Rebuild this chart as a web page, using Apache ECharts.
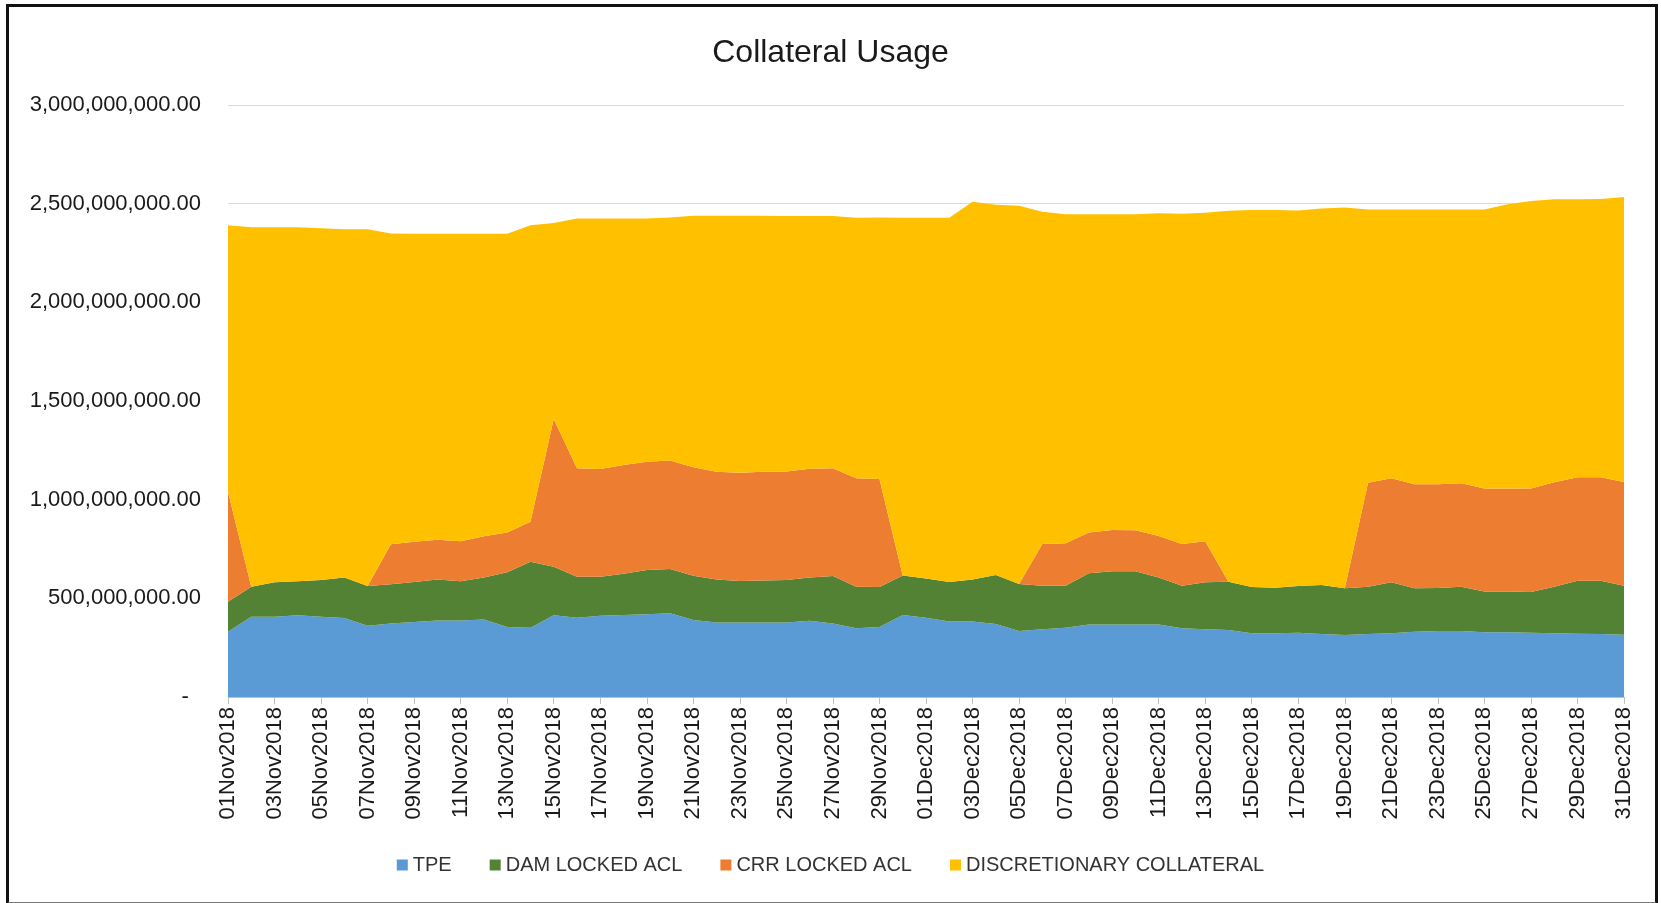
<!DOCTYPE html>
<html>
<head>
<meta charset="utf-8">
<script src="https://cdn.jsdelivr.net/npm/echarts@6/dist/echarts.min.js"></script>
<style>
  html, body { margin: 0; padding: 0; background: #fff; }
  #frame { position: absolute; left: 6px; top: 4px; width: 1646px; height: 895px; border: 3px solid #111; border-bottom-color: #777; border-bottom-width: 2px; box-sizing: content-box; }
  #chart { position: absolute; left: 0; top: 0; width: 1661px; height: 903px; }
</style>
</head>
<body>
<div id="frame"></div>
<div id="chart"></div>
<script>
// Daily collateral usage, values in millions
const dates = [
  '01Nov2018','02Nov2018','03Nov2018','04Nov2018','05Nov2018','06Nov2018','07Nov2018','08Nov2018','09Nov2018','10Nov2018',
  '11Nov2018','12Nov2018','13Nov2018','14Nov2018','15Nov2018','16Nov2018','17Nov2018','18Nov2018','19Nov2018','20Nov2018',
  '21Nov2018','22Nov2018','23Nov2018','24Nov2018','25Nov2018','26Nov2018','27Nov2018','28Nov2018','29Nov2018','30Nov2018',
  '01Dec2018','02Dec2018','03Dec2018','04Dec2018','05Dec2018','06Dec2018','07Dec2018','08Dec2018','09Dec2018','10Dec2018',
  '11Dec2018','12Dec2018','13Dec2018','14Dec2018','15Dec2018','16Dec2018','17Dec2018','18Dec2018','19Dec2018','20Dec2018',
  '21Dec2018','22Dec2018','23Dec2018','24Dec2018','25Dec2018','26Dec2018','27Dec2018','28Dec2018','29Dec2018','30Dec2018',
  '31Dec2018'
];

const tpe = [
  331,407,407,414,407,400,361,373,380,388,
  388,393,355,351,414,402,412,415,419,424,
  390,378,378,377,378,387,373,348,355,415,
  402,382,383,370,334,343,351,368,368,368,
  368,348,343,339,323,323,326,319,314,319,
  323,331,334,334,328,328,326,323,321,319,
  316
];

const damLocked = [
  152,152,174,172,186,205,201,198,203,208,
  198,213,277,335,246,208,198,210,225,225,
  225,218,210,214,215,219,240,211,202,201,
  198,201,213,248,239,221,213,259,269,269,
  238,216,238,245,234,231,236,248,237,240,
  258,220,218,225,206,206,206,236,268,270,
  248
];

const crrLocked = [
  557,0,0,0,0,0,0,203,204,201,
  203,208,202,202,749,549,545,551,548,550,
  549,546,549,551,550,551,546,549,548,0,
  0,0,0,0,0,211,215,207,209,208,
  210,211,208,0,0,0,0,0,0,527,
  527,527,526,524,523,523,525,529,524,524,
  525
];

const discretionary = [
  1350,1822,1799,1794,1782,1765,1808,1575,1561,1551,
  1559,1534,1514,1502,993,1266,1270,1249,1233,1231,
  1275,1297,1302,1297,1294,1280,1278,1321,1325,1813,
  1829,1846,1914,1877,1917,1684,1668,1613,1601,1602,
  1635,1674,1665,1880,1911,1914,1904,1909,1930,1385,
  1362,1392,1392,1387,1413,1440,1456,1434,1409,1411,
  1445
];

const yTicks = { min: 0, max: 3000000000, interval: 500000000 };

const seriesDefs = [
  { name: 'TPE', values: tpe, color: '#5B9BD5' },
  { name: 'DAM LOCKED ACL', values: damLocked, color: '#548235' },
  { name: 'CRR LOCKED ACL', values: crrLocked, color: '#ED7D31' },
  { name: 'DISCRETIONARY COLLATERAL', values: discretionary, color: '#FFC000' }
];

const FONT = '"Liberation Sans", Arial, sans-serif';
const chart = echarts.init(document.getElementById('chart'), null, { renderer: 'canvas' });

chart.setOption({
  animation: false,
  backgroundColor: 'transparent',
  title: {
    text: 'Collateral Usage',
    left: 'center',
    top: 32,
    textStyle: { fontFamily: FONT, fontSize: 32, fontWeight: 'normal', color: '#1a1a1a' }
  },
  legend: {
    bottom: 23,
    left: 'center',
    icon: 'rect',
    itemWidth: 11,
    itemHeight: 11,
    itemGap: 38,
    textStyle: { fontFamily: FONT, fontSize: 20, color: '#333' },
    data: seriesDefs.map(s => s.name)
  },
  grid: { left: 228, right: 37, top: 105, bottom: 206, containLabel: false },
  xAxis: {
    type: 'category',
    boundaryGap: false,
    data: dates,
    axisLine: { show: true, lineStyle: { color: '#bfbfbf', width: 1 } },
    axisTick: { show: true, interval: 1, length: 7, lineStyle: { color: '#bfbfbf' } },
    axisLabel: {
      interval: 1,
      rotate: 90,
      margin: 10,
      fontFamily: FONT,
      fontSize: 22,
      color: '#1a1a1a'
    },
    splitLine: { show: false }
  },
  yAxis: {
    type: 'value',
    min: yTicks.min,
    max: yTicks.max,
    interval: yTicks.interval,
    axisLine: { show: false },
    axisTick: { show: false },
    axisLabel: {
      margin: 27,
      fontFamily: FONT,
      fontSize: 22,
      color: '#1a1a1a',
      formatter: v => v === 0
        ? '-\u2007'
        : v.toLocaleString('en-US', { minimumFractionDigits: 2, maximumFractionDigits: 2 })
    },
    splitLine: { show: true, lineStyle: { color: '#d9d9d9', width: 1 } }
  },
  series: seriesDefs.map(s => ({
    name: s.name,
    type: 'line',
    stack: 'total',
    data: s.values.map(v => v * 1e6),
    symbol: 'none',
    showSymbol: false,
    lineStyle: { width: 0 },
    itemStyle: { color: s.color },
    areaStyle: { color: s.color, opacity: 1 },
    emphasis: { disabled: true }
  }))
});
</script>
</body>
</html>
